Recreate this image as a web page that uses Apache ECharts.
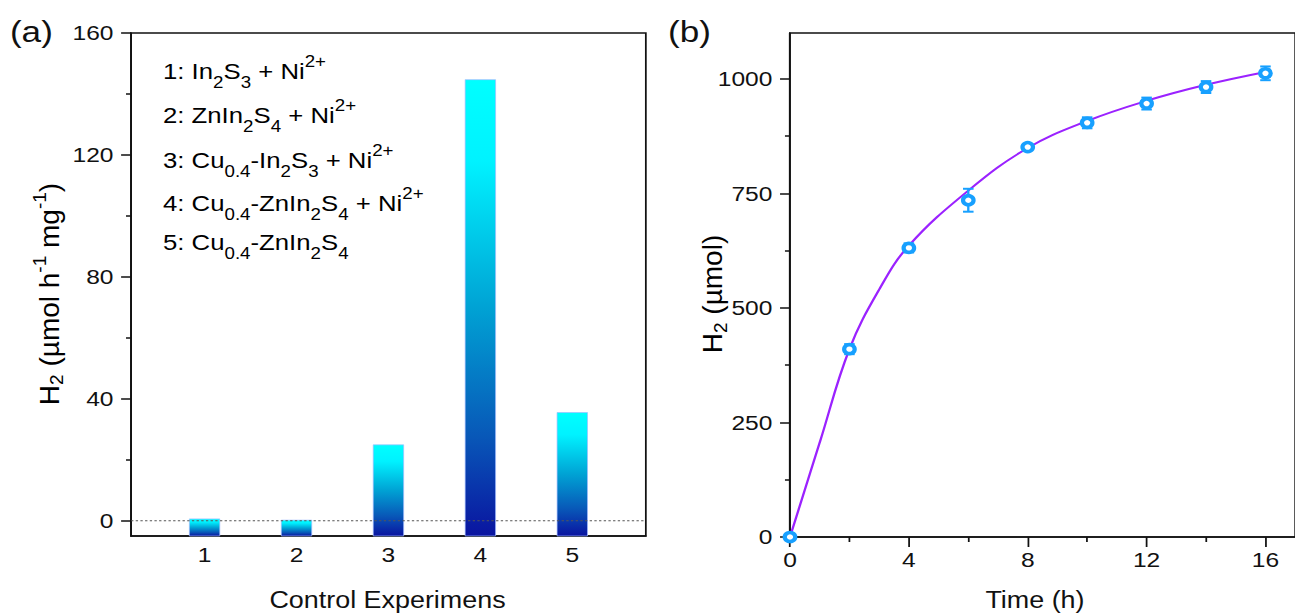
<!DOCTYPE html>
<html>
<head>
<meta charset="utf-8">
<script src="https://cdn.jsdelivr.net/npm/echarts@6/dist/echarts.min.js"></script>
<style>
  html, body { margin: 0; padding: 0; background: #fff; overflow: hidden; }
  /* the figure is laid out narrow and stretched horizontally */
  #chart { width: 1107px; height: 613px; transform: scaleX(1.17); transform-origin: 0 0; }
</style>
</head>
<body>
<div id="chart"></div>
<script>
// ---- (a) control experiments ----
const experiments = [1, 2, 3, 4, 5];
const rates = [0.6, 0.2, 24.9, 144.7, 35.5];            // µmol h-1 mg-1
const legendLines = [
  '1: In_{2}S_{3} + Ni^{2+}',
  '2: ZnIn_{2}S_{4} + Ni^{2+}',
  '3: Cu_{0.4}-In_{2}S_{3} + Ni^{2+}',
  '4: Cu_{0.4}-ZnIn_{2}S_{4} + Ni^{2+}',
  '5: Cu_{0.4}-ZnIn_{2}S_{4}'
];
const rateTicks = [0, 40, 80, 120, 160];
const rateMinorTicks = [20, 60, 100, 140];

// ---- (b) H2 evolution over time ----
const hours = [0, 2, 4, 6, 8, 10, 12, 14, 16];
const h2Amount = [0, 410, 631, 735, 851, 904, 946, 982, 1012];   // µmol
const h2Error = [0, 11, 10, 25, 6, 12, 13, 13, 15];
const fitHours = [0, 1, 2, 3, 4, 6, 8, 10, 12, 14, 16];
const fitAmount = [0, 206, 410, 540, 636, 756, 849, 908, 952, 987, 1015];
const timeTicks = [0, 4, 8, 12, 16];
const timeMinorTicks = [2, 6, 10, 14];
const amountTicks = [0, 250, 500, 750, 1000];
const amountMinorTicks = [125, 375, 625, 875];

const FONT = '"Liberation Sans", Arial, Helvetica, sans-serif';
const INK = '#111';
const RATE_MIN = -5, RATE_MAX = 160;
const EXP_MIN = 0.2, EXP_MAX = 5.8;
const BAR_W = 26;
const POINT_COLOR = '#17a0ff';
const FIT_COLOR = '#9b22ff';

// "_{..}" becomes a subscript token, "^{..}" a superscript token
function toRich(s) {
  let out = '', last = 0, m;
  const re = /([_^])\{([^}]*)\}/g;
  while ((m = re.exec(s))) {
    if (m.index > last) out += '{n|' + s.slice(last, m.index) + '}';
    out += '{' + (m[1] === '_' ? 'sub' : 'sup') + '|' + m[2] + '}';
    last = re.lastIndex;
  }
  if (last < s.length) out += '{n|' + s.slice(last) + '}';
  return out;
}
function richStyles(size, small, down, up) {
  return {
    n:   { fontSize: size, lineHeight: size + 4, fontFamily: FONT, color: INK },
    sub: { fontSize: small, lineHeight: small, fontFamily: FONT, color: INK, padding: [down * 2, 0, 0, 0] },
    sup: { fontSize: small, lineHeight: small, fontFamily: FONT, color: INK, padding: [0, 0, up * 2, 0] }
  };
}

const barGradient = new echarts.graphic.LinearGradient(0, 0, 0, 1, [
  { offset: 0, color: '#00ffff' },
  { offset: 0.18, color: '#00f2ff' },
  { offset: 0.5, color: '#00a2d4' },
  { offset: 0.78, color: '#0858b8' },
  { offset: 1, color: '#0a14a0' }
]);

const axisLineStyle = { color: INK, width: 1.5 };
const labelStyle = { fontFamily: FONT, fontSize: 21, color: INK, formatter: v => String(v) };

function mainValueAxis(extra) {
  return Object.assign({
    type: 'value',
    axisLine: { show: true, onZero: false, lineStyle: axisLineStyle },
    splitLine: { show: false },
    minorTick: { show: false }
  }, extra);
}
function minorAxis(extra) {
  return Object.assign({
    type: 'value',
    axisLine: { show: false, onZero: false },
    axisLabel: { show: false },
    splitLine: { show: false }
  }, extra);
}

const legendY = [71, 115, 160, 203, 242];

const option = {
  animation: false,
  backgroundColor: '#fff',
  grid: [
    { left: 112, top: 33, width: 440, height: 503, show: true, borderColor: INK, borderWidth: 1.5, backgroundColor: 'transparent' },
    { left: 675.2, top: 33, width: 439.5, height: 504, show: true, borderColor: INK, borderWidth: 1.5, backgroundColor: 'transparent' }
  ],
  xAxis: [
    mainValueAxis({
      gridIndex: 0, min: EXP_MIN, max: EXP_MAX, position: 'bottom',
      axisTick: { show: false },
      axisLabel: Object.assign({ customValues: experiments, margin: 8 }, labelStyle)
    }),
    mainValueAxis({
      gridIndex: 1, min: 0, max: 17, position: 'bottom',
      axisTick: { show: true, customValues: timeTicks, length: 10, lineStyle: axisLineStyle },
      axisLabel: Object.assign({ customValues: timeTicks, margin: 12 }, labelStyle)
    }),
    minorAxis({
      gridIndex: 1, min: 0, max: 17, position: 'bottom',
      axisTick: { show: true, customValues: timeMinorTicks, length: 5, lineStyle: axisLineStyle }
    })
  ],
  yAxis: [
    mainValueAxis({
      gridIndex: 0, min: RATE_MIN, max: RATE_MAX, position: 'left',
      axisTick: { show: true, customValues: rateTicks, length: 8.5, lineStyle: axisLineStyle },
      axisLabel: Object.assign({ customValues: rateTicks, margin: 15 }, labelStyle)
    }),
    minorAxis({
      gridIndex: 0, min: RATE_MIN, max: RATE_MAX, position: 'left',
      axisTick: { show: true, customValues: rateMinorTicks, length: 4.3, lineStyle: axisLineStyle }
    }),
    mainValueAxis({
      gridIndex: 1, min: 0, max: 1100, position: 'left',
      axisTick: { show: true, customValues: amountTicks, length: 8.5, lineStyle: axisLineStyle },
      axisLabel: Object.assign({ customValues: amountTicks, margin: 15 }, labelStyle)
    }),
    minorAxis({
      gridIndex: 1, min: 0, max: 1100, position: 'left',
      axisTick: { show: true, customValues: amountMinorTicks, length: 4.3, lineStyle: axisLineStyle }
    })
  ],
  graphic: [
    { type: 'text', x: 8.5, y: 31, style: { text: '(a)', font: '30px ' + FONT, fill: INK, verticalAlign: 'middle' } },
    { type: 'text', x: 571, y: 31, style: { text: '(b)', font: '30px ' + FONT, fill: INK, verticalAlign: 'middle' } },
    {
      type: 'text', x: 42, y: 294, rotation: Math.PI / 2, scaleY: 0.84,
      style: { text: toRich('H_{2} (µmol h^{-1} mg^{-1})'), rich: richStyles(28, 19, 8, 10), align: 'center', verticalAlign: 'middle' }
    },
    {
      type: 'text', x: 609, y: 294, rotation: Math.PI / 2, scaleY: 0.84,
      style: { text: toRich('H_{2} (µmol)'), rich: richStyles(28, 19, 8, 10), align: 'center', verticalAlign: 'middle' }
    },
    { type: 'text', x: 331.2, y: 600, style: { text: 'Control Experimens', font: '23px ' + FONT, fill: INK, align: 'center', verticalAlign: 'middle' } },
    { type: 'text', x: 884.6, y: 600, style: { text: 'Time (h)', font: '23px ' + FONT, fill: INK, align: 'center', verticalAlign: 'middle' } }
  ].concat(legendLines.map((line, i) => ({
    type: 'text', x: 139.3, y: legendY[i],
    style: { text: toRich(line), rich: richStyles(22, 16, 11, 10), align: 'left', verticalAlign: 'middle' }
  }))),
  series: [
    {
      // bars rise from the bottom of the axis range
      type: 'custom', xAxisIndex: 0, yAxisIndex: 0, z: 2,
      data: experiments.map((e, i) => [e, rates[i]]),
      renderItem(params, api) {
        const top = api.coord([api.value(0), api.value(1)]);
        const base = api.coord([api.value(0), RATE_MIN]);
        return {
          type: 'rect',
          shape: { x: top[0] - BAR_W / 2, y: top[1], width: BAR_W, height: base[1] - top[1] },
          style: { fill: barGradient, stroke: 'rgba(160,185,255,0.8)', lineWidth: 0.8 }
        };
      }
    },
    {
      // dotted zero reference
      type: 'line', xAxisIndex: 0, yAxisIndex: 0, z: 5, symbol: 'none', silent: true,
      data: [[EXP_MIN, 0], [EXP_MAX, 0]],
      lineStyle: { color: '#555', width: 1, type: [2, 2] }
    },
    {
      type: 'line', xAxisIndex: 1, yAxisIndex: 2, z: 3, smooth: 0.4, symbol: 'none',
      data: fitHours.map((h, i) => [h, fitAmount[i]]),
      lineStyle: { color: FIT_COLOR, width: 2 }
    },
    {
      // error bars
      type: 'custom', xAxisIndex: 1, yAxisIndex: 2, z: 4,
      data: hours.map((h, i) => [h, h2Amount[i] - h2Error[i], h2Amount[i] + h2Error[i]]),
      renderItem(params, api) {
        const lo = api.coord([api.value(0), api.value(1)]);
        const hi = api.coord([api.value(0), api.value(2)]);
        if (Math.abs(lo[1] - hi[1]) < 0.5) return null;
        const cap = 4.5;
        const st = { stroke: POINT_COLOR, lineWidth: 2 };
        return {
          type: 'group',
          children: [
            { type: 'line', shape: { x1: lo[0], y1: lo[1], x2: hi[0], y2: hi[1] }, style: st },
            { type: 'line', shape: { x1: lo[0] - cap, y1: lo[1], x2: lo[0] + cap, y2: lo[1] }, style: st },
            { type: 'line', shape: { x1: hi[0] - cap, y1: hi[1], x2: hi[0] + cap, y2: hi[1] }, style: st }
          ]
        };
      }
    },
    {
      type: 'scatter', xAxisIndex: 1, yAxisIndex: 2, z: 5,
      symbol: 'circle', symbolSize: 9,
      data: hours.map((h, i) => [h, h2Amount[i]]),
      itemStyle: { color: '#ffffff', borderColor: POINT_COLOR, borderWidth: 3.6, opacity: 1 }
    }
  ]
};

const chart = echarts.init(document.getElementById('chart'), null, { renderer: 'svg' });
chart.setOption(option);
</script>
</body>
</html>
